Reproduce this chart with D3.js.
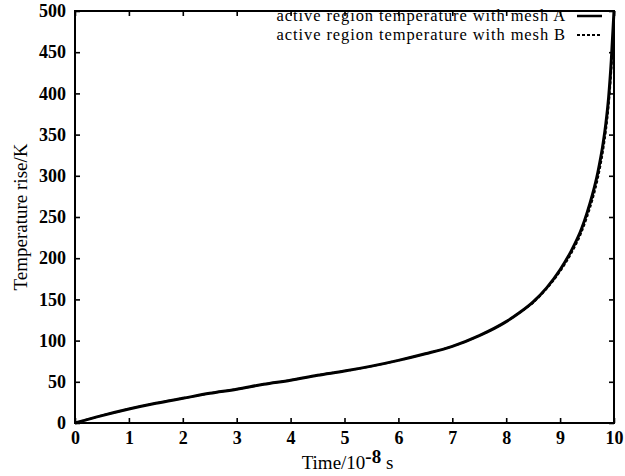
<!DOCTYPE html>
<html><head><meta charset="utf-8">
<script src="https://cdn.jsdelivr.net/npm/d3@7"></script>
<style>
html,body{margin:0;padding:0;background:#fff;}
svg text{font-family:"Liberation Serif","DejaVu Serif",serif;fill:#000;}
</style></head><body>
<svg id="chart" width="625" height="476"></svg>
<script>
const timeValues = [0,0.5,1,1.5,2,2.5,3,3.5,4,4.5,5,5.5,6,6.5,7,7.5,8,8.25,8.5,8.75,9,9.2,9.4,9.5,9.6,9.7,9.8,9.85,9.9,9.95,10];
const tempMeshA = [0,9,17,24,30,36,41,47,52,58,63,69,76,84,93,106,123,134,147,164,186,208,236,255,277,304,340,364,395,440,500];
const tempMeshB = [0,9,17,24,30,36,41,47,52,58,63,69,76,84,93,106,123,134,146,163,184,205,232,250,271,297,332,355,385,428,492];
const xTicks = [0,1,2,3,4,5,6,7,8,9,10];
const yTicks = [0,50,100,150,200,250,300,350,400,450,500];
const legendLabels = ["active region temperature with mesh A","active region temperature with mesh B"];

const svg = d3.select("#chart");
const L=75, R=614, T=11, B=423;
const x = d3.scaleLinear().domain([0,10]).range([L,R]);
const y = d3.scaleLinear().domain([0,500]).range([B,T]);

svg.append("rect").attr("x",L).attr("y",T).attr("width",R-L).attr("height",B-T)
  .attr("fill","none").attr("stroke","#000").attr("stroke-width",2);

const tickLen = 5;
const tickStyle = g => g.call(g=>g.select(".domain").remove())
  .call(g=>g.selectAll("line").attr("stroke","#000").attr("stroke-width",1.6));

const xb = svg.append("g").attr("transform",`translate(0,${B})`)
  .call(d3.axisBottom(x).tickValues(xTicks).tickSize(-tickLen).tickPadding(7).tickFormat(d3.format("d")));
tickStyle(xb);
xb.selectAll("text").attr("font-size",18).attr("font-weight","bold").attr("dy","0.75em");
const xt = svg.append("g").attr("transform",`translate(0,${T})`)
  .call(d3.axisTop(x).tickValues(xTicks).tickSize(-tickLen).tickFormat(""));
tickStyle(xt);
const yl = svg.append("g").attr("transform",`translate(${L},0)`)
  .call(d3.axisLeft(y).tickValues(yTicks).tickSize(-tickLen).tickPadding(9).tickFormat(d3.format("d")));
tickStyle(yl);
yl.selectAll("text").attr("font-size",18).attr("font-weight","bold");
const yr = svg.append("g").attr("transform",`translate(${R},0)`)
  .call(d3.axisRight(y).tickValues(yTicks).tickSize(-tickLen).tickFormat(""));
tickStyle(yr);

svg.append("text").attr("transform",`translate(27,${(T+B)/2}) rotate(-90)`)
  .attr("text-anchor","middle").attr("font-size",19).text("Temperature rise/K");
const xt2 = svg.append("text").attr("x",(L+R)/2+3).attr("y",469).attr("text-anchor","middle").attr("font-size",19);
xt2.append("tspan").text("Time/10");
xt2.append("tspan").attr("dy",-6).attr("font-weight","bold").text("-8");
xt2.append("tspan").attr("dy",6).text(" s");

const line = d3.line().x((d,i)=>x(timeValues[i])).y(d=>y(d)).curve(d3.curveMonotoneX);
svg.append("path").datum(tempMeshA).attr("d",line).attr("fill","none")
  .attr("stroke","#000").attr("stroke-width",3);
svg.append("path").datum(tempMeshB).attr("d",line).attr("fill","none")
  .attr("stroke","#000").attr("stroke-width",2).attr("stroke-dasharray","3,2");

const styles = [{w:2.5,dash:null},{w:1.8,dash:"3,2"}];
legendLabels.forEach((lab,i)=>{
  const yy = 21 + i*19;
  svg.append("text").attr("x",566).attr("y",yy).attr("text-anchor","end")
    .attr("font-size",16.5).attr("letter-spacing","0.9px").text(lab);
  svg.append("line").attr("x1",577).attr("x2",602).attr("y1",yy-5).attr("y2",yy-5)
    .attr("stroke","#000").attr("stroke-width",styles[i].w)
    .attr("stroke-dasharray",styles[i].dash);
});
</script></body></html>
